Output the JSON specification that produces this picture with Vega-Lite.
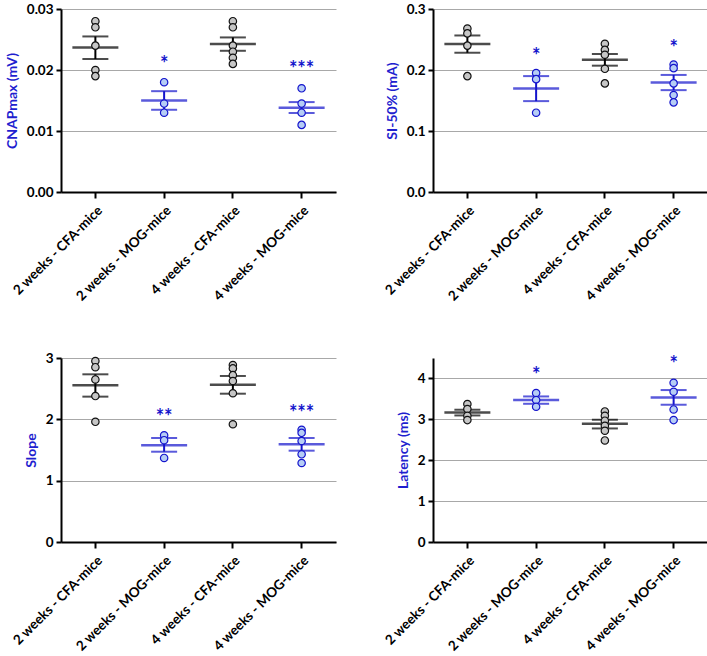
{
  "$schema": "https://vega.github.io/schema/vega-lite/v6.json",
  "background": "white",
  "padding": {"left": 5, "top": 2, "right": 0, "bottom": 0},
  "config": {
    "view": {"stroke": null},
    "font": "Lato",
    "axis": {
      "labelFont": "Lato", "labelFontWeight": "bold", "labelColor": "black",
      "titleFont": "Lato", "titleFontWeight": "bold",
      "domainColor": "black", "domainWidth": 2, "tickColor": "black", "tickWidth": 2, "tickSize": 5
    },
    "axisX": {"labelAngle": -45, "labelFontSize": 13.5, "labelPadding": 5, "grid": false, "title": null, "tickSize": 6},
    "axisY": {"labelFontSize": 13.5, "titleFontSize": 14, "titleColor": "#1f1fcf", "gridColor": "#a8a8a8", "gridWidth": 1, "titlePadding": 7, "labelPadding": 3}
  },
  "datasets": {
    "points": [
      {"panel": "CNAP", "group": "2 weeks - CFA-mice", "type": "CFA", "value": 0.028},
      {"panel": "CNAP", "group": "2 weeks - CFA-mice", "type": "CFA", "value": 0.027},
      {"panel": "CNAP", "group": "2 weeks - CFA-mice", "type": "CFA", "value": 0.024},
      {"panel": "CNAP", "group": "2 weeks - CFA-mice", "type": "CFA", "value": 0.020},
      {"panel": "CNAP", "group": "2 weeks - CFA-mice", "type": "CFA", "value": 0.019},
      {"panel": "CNAP", "group": "2 weeks - MOG-mice", "type": "MOG", "value": 0.018},
      {"panel": "CNAP", "group": "2 weeks - MOG-mice", "type": "MOG", "value": 0.0145},
      {"panel": "CNAP", "group": "2 weeks - MOG-mice", "type": "MOG", "value": 0.013},
      {"panel": "CNAP", "group": "4 weeks - CFA-mice", "type": "CFA", "value": 0.028},
      {"panel": "CNAP", "group": "4 weeks - CFA-mice", "type": "CFA", "value": 0.027},
      {"panel": "CNAP", "group": "4 weeks - CFA-mice", "type": "CFA", "value": 0.024},
      {"panel": "CNAP", "group": "4 weeks - CFA-mice", "type": "CFA", "value": 0.023},
      {"panel": "CNAP", "group": "4 weeks - CFA-mice", "type": "CFA", "value": 0.022},
      {"panel": "CNAP", "group": "4 weeks - CFA-mice", "type": "CFA", "value": 0.021},
      {"panel": "CNAP", "group": "4 weeks - MOG-mice", "type": "MOG", "value": 0.017},
      {"panel": "CNAP", "group": "4 weeks - MOG-mice", "type": "MOG", "value": 0.0145},
      {"panel": "CNAP", "group": "4 weeks - MOG-mice", "type": "MOG", "value": 0.013},
      {"panel": "CNAP", "group": "4 weeks - MOG-mice", "type": "MOG", "value": 0.011},

      {"panel": "SI", "group": "2 weeks - CFA-mice", "type": "CFA", "value": 0.268},
      {"panel": "SI", "group": "2 weeks - CFA-mice", "type": "CFA", "value": 0.26},
      {"panel": "SI", "group": "2 weeks - CFA-mice", "type": "CFA", "value": 0.24},
      {"panel": "SI", "group": "2 weeks - CFA-mice", "type": "CFA", "value": 0.19},
      {"panel": "SI", "group": "2 weeks - MOG-mice", "type": "MOG", "value": 0.195},
      {"panel": "SI", "group": "2 weeks - MOG-mice", "type": "MOG", "value": 0.185},
      {"panel": "SI", "group": "2 weeks - MOG-mice", "type": "MOG", "value": 0.13},
      {"panel": "SI", "group": "4 weeks - CFA-mice", "type": "CFA", "value": 0.243},
      {"panel": "SI", "group": "4 weeks - CFA-mice", "type": "CFA", "value": 0.233},
      {"panel": "SI", "group": "4 weeks - CFA-mice", "type": "CFA", "value": 0.225},
      {"panel": "SI", "group": "4 weeks - CFA-mice", "type": "CFA", "value": 0.202},
      {"panel": "SI", "group": "4 weeks - CFA-mice", "type": "CFA", "value": 0.178},
      {"panel": "SI", "group": "4 weeks - MOG-mice", "type": "MOG", "value": 0.209},
      {"panel": "SI", "group": "4 weeks - MOG-mice", "type": "MOG", "value": 0.203},
      {"panel": "SI", "group": "4 weeks - MOG-mice", "type": "MOG", "value": 0.178},
      {"panel": "SI", "group": "4 weeks - MOG-mice", "type": "MOG", "value": 0.159},
      {"panel": "SI", "group": "4 weeks - MOG-mice", "type": "MOG", "value": 0.147},

      {"panel": "Slope", "group": "2 weeks - CFA-mice", "type": "CFA", "value": 2.95},
      {"panel": "Slope", "group": "2 weeks - CFA-mice", "type": "CFA", "value": 2.85},
      {"panel": "Slope", "group": "2 weeks - CFA-mice", "type": "CFA", "value": 2.65},
      {"panel": "Slope", "group": "2 weeks - CFA-mice", "type": "CFA", "value": 2.38},
      {"panel": "Slope", "group": "2 weeks - CFA-mice", "type": "CFA", "value": 1.96},
      {"panel": "Slope", "group": "2 weeks - MOG-mice", "type": "MOG", "value": 1.74},
      {"panel": "Slope", "group": "2 weeks - MOG-mice", "type": "MOG", "value": 1.66},
      {"panel": "Slope", "group": "2 weeks - MOG-mice", "type": "MOG", "value": 1.37},
      {"panel": "Slope", "group": "4 weeks - CFA-mice", "type": "CFA", "value": 2.886},
      {"panel": "Slope", "group": "4 weeks - CFA-mice", "type": "CFA", "value": 2.83},
      {"panel": "Slope", "group": "4 weeks - CFA-mice", "type": "CFA", "value": 2.72},
      {"panel": "Slope", "group": "4 weeks - CFA-mice", "type": "CFA", "value": 2.625},
      {"panel": "Slope", "group": "4 weeks - CFA-mice", "type": "CFA", "value": 2.425},
      {"panel": "Slope", "group": "4 weeks - CFA-mice", "type": "CFA", "value": 1.92},
      {"panel": "Slope", "group": "4 weeks - MOG-mice", "type": "MOG", "value": 1.83},
      {"panel": "Slope", "group": "4 weeks - MOG-mice", "type": "MOG", "value": 1.78},
      {"panel": "Slope", "group": "4 weeks - MOG-mice", "type": "MOG", "value": 1.647},
      {"panel": "Slope", "group": "4 weeks - MOG-mice", "type": "MOG", "value": 1.43},
      {"panel": "Slope", "group": "4 weeks - MOG-mice", "type": "MOG", "value": 1.288},

      {"panel": "Latency", "group": "2 weeks - CFA-mice", "type": "CFA", "value": 3.374},
      {"panel": "Latency", "group": "2 weeks - CFA-mice", "type": "CFA", "value": 3.252},
      {"panel": "Latency", "group": "2 weeks - CFA-mice", "type": "CFA", "value": 3.088},
      {"panel": "Latency", "group": "2 weeks - CFA-mice", "type": "CFA", "value": 2.982},
      {"panel": "Latency", "group": "2 weeks - MOG-mice", "type": "MOG", "value": 3.643},
      {"panel": "Latency", "group": "2 weeks - MOG-mice", "type": "MOG", "value": 3.472},
      {"panel": "Latency", "group": "2 weeks - MOG-mice", "type": "MOG", "value": 3.308},
      {"panel": "Latency", "group": "4 weeks - CFA-mice", "type": "CFA", "value": 3.193},
      {"panel": "Latency", "group": "4 weeks - CFA-mice", "type": "CFA", "value": 3.088},
      {"panel": "Latency", "group": "4 weeks - CFA-mice", "type": "CFA", "value": 2.966},
      {"panel": "Latency", "group": "4 weeks - CFA-mice", "type": "CFA", "value": 2.843},
      {"panel": "Latency", "group": "4 weeks - CFA-mice", "type": "CFA", "value": 2.721},
      {"panel": "Latency", "group": "4 weeks - CFA-mice", "type": "CFA", "value": 2.483},
      {"panel": "Latency", "group": "4 weeks - MOG-mice", "type": "MOG", "value": 3.895},
      {"panel": "Latency", "group": "4 weeks - MOG-mice", "type": "MOG", "value": 3.675},
      {"panel": "Latency", "group": "4 weeks - MOG-mice", "type": "MOG", "value": 3.242},
      {"panel": "Latency", "group": "4 weeks - MOG-mice", "type": "MOG", "value": 2.982}
    ],
    "summary": [
      {"panel": "CNAP", "group": "2 weeks - CFA-mice", "type": "CFA", "mean": 0.0237, "lo": 0.0218, "hi": 0.0255, "sig": "", "sig_y": 0},
      {"panel": "CNAP", "group": "2 weeks - MOG-mice", "type": "MOG", "mean": 0.0150, "lo": 0.01348, "hi": 0.01653, "sig": "*", "sig_y": 0.0215},
      {"panel": "CNAP", "group": "4 weeks - CFA-mice", "type": "CFA", "mean": 0.02425, "lo": 0.02315, "hi": 0.02534, "sig": "", "sig_y": 0},
      {"panel": "CNAP", "group": "4 weeks - MOG-mice", "type": "MOG", "mean": 0.0138, "lo": 0.01295, "hi": 0.01474, "sig": "***", "sig_y": 0.0206},
      {"panel": "SI", "group": "2 weeks - CFA-mice", "type": "CFA", "mean": 0.2425, "lo": 0.2283, "hi": 0.2566, "sig": "", "sig_y": 0},
      {"panel": "SI", "group": "2 weeks - MOG-mice", "type": "MOG", "mean": 0.1696, "lo": 0.149, "hi": 0.190, "sig": "*", "sig_y": 0.228},
      {"panel": "SI", "group": "4 weeks - CFA-mice", "type": "CFA", "mean": 0.2169, "lo": 0.2071, "hi": 0.2262, "sig": "", "sig_y": 0},
      {"panel": "SI", "group": "4 weeks - MOG-mice", "type": "MOG", "mean": 0.1794, "lo": 0.167, "hi": 0.1919, "sig": "*", "sig_y": 0.241},
      {"panel": "Slope", "group": "2 weeks - CFA-mice", "type": "CFA", "mean": 2.555, "lo": 2.37, "hi": 2.734, "sig": "", "sig_y": 0},
      {"panel": "Slope", "group": "2 weeks - MOG-mice", "type": "MOG", "mean": 1.577, "lo": 1.472, "hi": 1.696, "sig": "**", "sig_y": 2.08},
      {"panel": "Slope", "group": "4 weeks - CFA-mice", "type": "CFA", "mean": 2.565, "lo": 2.418, "hi": 2.707, "sig": "", "sig_y": 0},
      {"panel": "Slope", "group": "4 weeks - MOG-mice", "type": "MOG", "mean": 1.593, "lo": 1.489, "hi": 1.696, "sig": "***", "sig_y": 2.15},
      {"panel": "Latency", "group": "2 weeks - CFA-mice", "type": "CFA", "mean": 3.169, "lo": 3.095, "hi": 3.235, "sig": "", "sig_y": 0},
      {"panel": "Latency", "group": "2 weeks - MOG-mice", "type": "MOG", "mean": 3.472, "lo": 3.38, "hi": 3.56, "sig": "*", "sig_y": 4.15},
      {"panel": "Latency", "group": "4 weeks - CFA-mice", "type": "CFA", "mean": 2.892, "lo": 2.777, "hi": 2.99, "sig": "", "sig_y": 0},
      {"panel": "Latency", "group": "4 weeks - MOG-mice", "type": "MOG", "mean": 3.536, "lo": 3.357, "hi": 3.716, "sig": "*", "sig_y": 4.42}
    ]
  },
  "columns": 2,
  "bounds": "flush",
  "spacing": {"row": 166, "column": 97},
  "concat": [
    {
      "width": 275, "height": 183,
      "encoding": {"x": {"field": "group", "type": "nominal", "sort": ["2 weeks - CFA-mice", "2 weeks - MOG-mice", "4 weeks - CFA-mice", "4 weeks - MOG-mice"], "scale": {"paddingInner": 0, "paddingOuter": 0}}},
      "layer": [
        {"data": {"name": "summary"}, "transform": [{"filter": "datum.panel == 'CNAP'"}],
         "mark": {"type": "rule", "strokeWidth": 2},
         "encoding": {"y": {"field": "lo", "type": "quantitative", "scale": {"domain": [0, 0.03], "nice": false},
            "title": "CNAPmax (mV)",
            "axis": {"values": [0, 0.005, 0.01, 0.015, 0.02, 0.025, 0.03],
              "labelExpr": "abs(datum.value*100 - round(datum.value*100)) < 0.001 ? format(datum.value, '.2f') : ''",
              "gridOpacity": {"condition": {"test": "abs(datum.value*100 - round(datum.value*100)) < 0.001", "value": 1}, "value": 0}}},
           "y2": {"field": "hi"},
           "color": {"field": "type", "type": "nominal", "scale": {"domain": ["CFA", "MOG"], "range": ["black", "#1414cc"]}, "legend": null}}},
        {"data": {"name": "summary"}, "transform": [{"filter": "datum.panel == 'CNAP'"}],
         "mark": {"type": "tick", "size": 46, "thickness": 2.5},
         "encoding": {"y": {"field": "mean", "type": "quantitative", "scale": {"domain": [0, 0.03], "nice": false}, "title": "CNAPmax (mV)"},
           "color": {"field": "type", "type": "nominal", "scale": {"domain": ["CFA", "MOG"], "range": ["black", "#1414cc"]}, "legend": null}}},
        {"data": {"name": "summary"}, "transform": [{"filter": "datum.panel == 'CNAP'"}, {"fold": ["lo", "hi"], "as": ["k", "v"]}],
         "mark": {"type": "tick", "size": 26, "thickness": 2},
         "encoding": {"y": {"field": "v", "type": "quantitative", "scale": {"domain": [0, 0.03], "nice": false}, "title": "CNAPmax (mV)"},
           "color": {"field": "type", "type": "nominal", "scale": {"domain": ["CFA", "MOG"], "range": ["black", "#1414cc"]}, "legend": null}}},
        {"data": {"name": "points"}, "transform": [{"filter": "datum.panel == 'CNAP'"}],
         "mark": {"type": "point", "shape": "circle", "filled": false, "size": 55, "strokeWidth": 1.2, "opacity": 1, "fillOpacity": 1},
         "encoding": {"y": {"field": "value", "type": "quantitative", "scale": {"domain": [0, 0.03], "nice": false}, "title": "CNAPmax (mV)"},
           "fill": {"field": "type", "type": "nominal", "scale": {"domain": ["CFA", "MOG"], "range": ["#c6c6c6", "#b6cdf5"]}, "legend": null},
           "stroke": {"field": "type", "type": "nominal", "scale": {"domain": ["CFA", "MOG"], "range": ["#111111", "#1414cc"]}, "legend": null}}},
        {"data": {"name": "summary"}, "transform": [{"filter": "datum.panel == 'CNAP' && datum.sig != ''"}],
         "mark": {"type": "text", "fontSize": 20, "fontWeight": "bold", "color": "#1414cc", "baseline": "middle", "dy": 4},
         "encoding": {"y": {"field": "sig_y", "type": "quantitative", "scale": {"domain": [0, 0.03], "nice": false}, "title": "CNAPmax (mV)"},
           "text": {"field": "sig"}}}
      ]
    },
    {
      "width": 275, "height": 183,
      "encoding": {"x": {"field": "group", "type": "nominal", "sort": ["2 weeks - CFA-mice", "2 weeks - MOG-mice", "4 weeks - CFA-mice", "4 weeks - MOG-mice"], "scale": {"paddingInner": 0, "paddingOuter": 0}}},
      "layer": [
        {"data": {"name": "summary"}, "transform": [{"filter": "datum.panel == 'SI'"}],
         "mark": {"type": "rule", "strokeWidth": 2},
         "encoding": {"y": {"field": "lo", "type": "quantitative", "scale": {"domain": [0, 0.3], "nice": false},
            "title": "SI-50% (mA)",
            "axis": {"values": [0, 0.05, 0.1, 0.15, 0.2, 0.25, 0.3],
              "labelExpr": "abs(datum.value*10 - round(datum.value*10)) < 0.001 ? format(datum.value, '.1f') : ''",
              "gridOpacity": {"condition": {"test": "abs(datum.value*10 - round(datum.value*10)) < 0.001", "value": 1}, "value": 0}}},
           "y2": {"field": "hi"},
           "color": {"field": "type", "type": "nominal", "scale": {"domain": ["CFA", "MOG"], "range": ["black", "#1414cc"]}, "legend": null}}},
        {"data": {"name": "summary"}, "transform": [{"filter": "datum.panel == 'SI'"}],
         "mark": {"type": "tick", "size": 46, "thickness": 2.5},
         "encoding": {"y": {"field": "mean", "type": "quantitative", "scale": {"domain": [0, 0.3], "nice": false}, "title": "SI-50% (mA)"},
           "color": {"field": "type", "type": "nominal", "scale": {"domain": ["CFA", "MOG"], "range": ["black", "#1414cc"]}, "legend": null}}},
        {"data": {"name": "summary"}, "transform": [{"filter": "datum.panel == 'SI'"}, {"fold": ["lo", "hi"], "as": ["k", "v"]}],
         "mark": {"type": "tick", "size": 26, "thickness": 2},
         "encoding": {"y": {"field": "v", "type": "quantitative", "scale": {"domain": [0, 0.3], "nice": false}, "title": "SI-50% (mA)"},
           "color": {"field": "type", "type": "nominal", "scale": {"domain": ["CFA", "MOG"], "range": ["black", "#1414cc"]}, "legend": null}}},
        {"data": {"name": "points"}, "transform": [{"filter": "datum.panel == 'SI'"}],
         "mark": {"type": "point", "shape": "circle", "filled": false, "size": 55, "strokeWidth": 1.2, "opacity": 1, "fillOpacity": 1},
         "encoding": {"y": {"field": "value", "type": "quantitative", "scale": {"domain": [0, 0.3], "nice": false}, "title": "SI-50% (mA)"},
           "fill": {"field": "type", "type": "nominal", "scale": {"domain": ["CFA", "MOG"], "range": ["#c6c6c6", "#b6cdf5"]}, "legend": null},
           "stroke": {"field": "type", "type": "nominal", "scale": {"domain": ["CFA", "MOG"], "range": ["#111111", "#1414cc"]}, "legend": null}}},
        {"data": {"name": "summary"}, "transform": [{"filter": "datum.panel == 'SI' && datum.sig != ''"}],
         "mark": {"type": "text", "fontSize": 20, "fontWeight": "bold", "color": "#1414cc", "baseline": "middle", "dy": 4},
         "encoding": {"y": {"field": "sig_y", "type": "quantitative", "scale": {"domain": [0, 0.3], "nice": false}, "title": "SI-50% (mA)"},
           "text": {"field": "sig"}}}
      ]
    },
    {
      "width": 275, "height": 184,
      "encoding": {"x": {"field": "group", "type": "nominal", "sort": ["2 weeks - CFA-mice", "2 weeks - MOG-mice", "4 weeks - CFA-mice", "4 weeks - MOG-mice"], "scale": {"paddingInner": 0, "paddingOuter": 0}}},
      "layer": [
        {"data": {"name": "summary"}, "transform": [{"filter": "datum.panel == 'Slope'"}],
         "mark": {"type": "rule", "strokeWidth": 2},
         "encoding": {"y": {"field": "lo", "type": "quantitative", "scale": {"domain": [0, 3], "nice": false},
            "title": "Slope",
            "axis": {"values": [0, 0.5, 1, 1.5, 2, 2.5, 3],
              "labelExpr": "abs(datum.value - round(datum.value)) < 0.001 ? format(datum.value, 'd') : ''",
              "gridOpacity": {"condition": {"test": "abs(datum.value - round(datum.value)) < 0.001", "value": 1}, "value": 0}}},
           "y2": {"field": "hi"},
           "color": {"field": "type", "type": "nominal", "scale": {"domain": ["CFA", "MOG"], "range": ["black", "#1414cc"]}, "legend": null}}},
        {"data": {"name": "summary"}, "transform": [{"filter": "datum.panel == 'Slope'"}],
         "mark": {"type": "tick", "size": 46, "thickness": 2.5},
         "encoding": {"y": {"field": "mean", "type": "quantitative", "scale": {"domain": [0, 3], "nice": false}, "title": "Slope"},
           "color": {"field": "type", "type": "nominal", "scale": {"domain": ["CFA", "MOG"], "range": ["black", "#1414cc"]}, "legend": null}}},
        {"data": {"name": "summary"}, "transform": [{"filter": "datum.panel == 'Slope'"}, {"fold": ["lo", "hi"], "as": ["k", "v"]}],
         "mark": {"type": "tick", "size": 26, "thickness": 2},
         "encoding": {"y": {"field": "v", "type": "quantitative", "scale": {"domain": [0, 3], "nice": false}, "title": "Slope"},
           "color": {"field": "type", "type": "nominal", "scale": {"domain": ["CFA", "MOG"], "range": ["black", "#1414cc"]}, "legend": null}}},
        {"data": {"name": "points"}, "transform": [{"filter": "datum.panel == 'Slope'"}],
         "mark": {"type": "point", "shape": "circle", "filled": false, "size": 55, "strokeWidth": 1.2, "opacity": 1, "fillOpacity": 1},
         "encoding": {"y": {"field": "value", "type": "quantitative", "scale": {"domain": [0, 3], "nice": false}, "title": "Slope"},
           "fill": {"field": "type", "type": "nominal", "scale": {"domain": ["CFA", "MOG"], "range": ["#c6c6c6", "#b6cdf5"]}, "legend": null},
           "stroke": {"field": "type", "type": "nominal", "scale": {"domain": ["CFA", "MOG"], "range": ["#111111", "#1414cc"]}, "legend": null}}},
        {"data": {"name": "summary"}, "transform": [{"filter": "datum.panel == 'Slope' && datum.sig != ''"}],
         "mark": {"type": "text", "fontSize": 20, "fontWeight": "bold", "color": "#1414cc", "baseline": "middle", "dy": 4},
         "encoding": {"y": {"field": "sig_y", "type": "quantitative", "scale": {"domain": [0, 3], "nice": false}, "title": "Slope"},
           "text": {"field": "sig"}}}
      ]
    },
    {
      "width": 275, "height": 184,
      "encoding": {"x": {"field": "group", "type": "nominal", "sort": ["2 weeks - CFA-mice", "2 weeks - MOG-mice", "4 weeks - CFA-mice", "4 weeks - MOG-mice"], "scale": {"paddingInner": 0, "paddingOuter": 0}}},
      "layer": [
        {"data": {"name": "summary"}, "transform": [{"filter": "datum.panel == 'Latency'"}],
         "mark": {"type": "rule", "strokeWidth": 2},
         "encoding": {"y": {"field": "lo", "type": "quantitative", "scale": {"domain": [0, 4.5], "nice": false},
            "title": "Latency (ms)",
            "axis": {"values": [0, 0.5, 1, 1.5, 2, 2.5, 3, 3.5, 4, 4.5],
              "labelExpr": "abs(datum.value - round(datum.value)) < 0.001 ? format(datum.value, 'd') : ''",
              "gridOpacity": {"condition": {"test": "abs(datum.value - round(datum.value)) < 0.001", "value": 1}, "value": 0}}},
           "y2": {"field": "hi"},
           "color": {"field": "type", "type": "nominal", "scale": {"domain": ["CFA", "MOG"], "range": ["black", "#1414cc"]}, "legend": null}}},
        {"data": {"name": "summary"}, "transform": [{"filter": "datum.panel == 'Latency'"}],
         "mark": {"type": "tick", "size": 46, "thickness": 2.5},
         "encoding": {"y": {"field": "mean", "type": "quantitative", "scale": {"domain": [0, 4.5], "nice": false}, "title": "Latency (ms)"},
           "color": {"field": "type", "type": "nominal", "scale": {"domain": ["CFA", "MOG"], "range": ["black", "#1414cc"]}, "legend": null}}},
        {"data": {"name": "summary"}, "transform": [{"filter": "datum.panel == 'Latency'"}, {"fold": ["lo", "hi"], "as": ["k", "v"]}],
         "mark": {"type": "tick", "size": 26, "thickness": 2},
         "encoding": {"y": {"field": "v", "type": "quantitative", "scale": {"domain": [0, 4.5], "nice": false}, "title": "Latency (ms)"},
           "color": {"field": "type", "type": "nominal", "scale": {"domain": ["CFA", "MOG"], "range": ["black", "#1414cc"]}, "legend": null}}},
        {"data": {"name": "points"}, "transform": [{"filter": "datum.panel == 'Latency'"}],
         "mark": {"type": "point", "shape": "circle", "filled": false, "size": 55, "strokeWidth": 1.2, "opacity": 1, "fillOpacity": 1},
         "encoding": {"y": {"field": "value", "type": "quantitative", "scale": {"domain": [0, 4.5], "nice": false}, "title": "Latency (ms)"},
           "fill": {"field": "type", "type": "nominal", "scale": {"domain": ["CFA", "MOG"], "range": ["#c6c6c6", "#b6cdf5"]}, "legend": null},
           "stroke": {"field": "type", "type": "nominal", "scale": {"domain": ["CFA", "MOG"], "range": ["#111111", "#1414cc"]}, "legend": null}}},
        {"data": {"name": "summary"}, "transform": [{"filter": "datum.panel == 'Latency' && datum.sig != ''"}],
         "mark": {"type": "text", "fontSize": 20, "fontWeight": "bold", "color": "#1414cc", "baseline": "middle", "dy": 4},
         "encoding": {"y": {"field": "sig_y", "type": "quantitative", "scale": {"domain": [0, 4.5], "nice": false}, "title": "Latency (ms)"},
           "text": {"field": "sig"}}}
      ]
    }
  ]
}
